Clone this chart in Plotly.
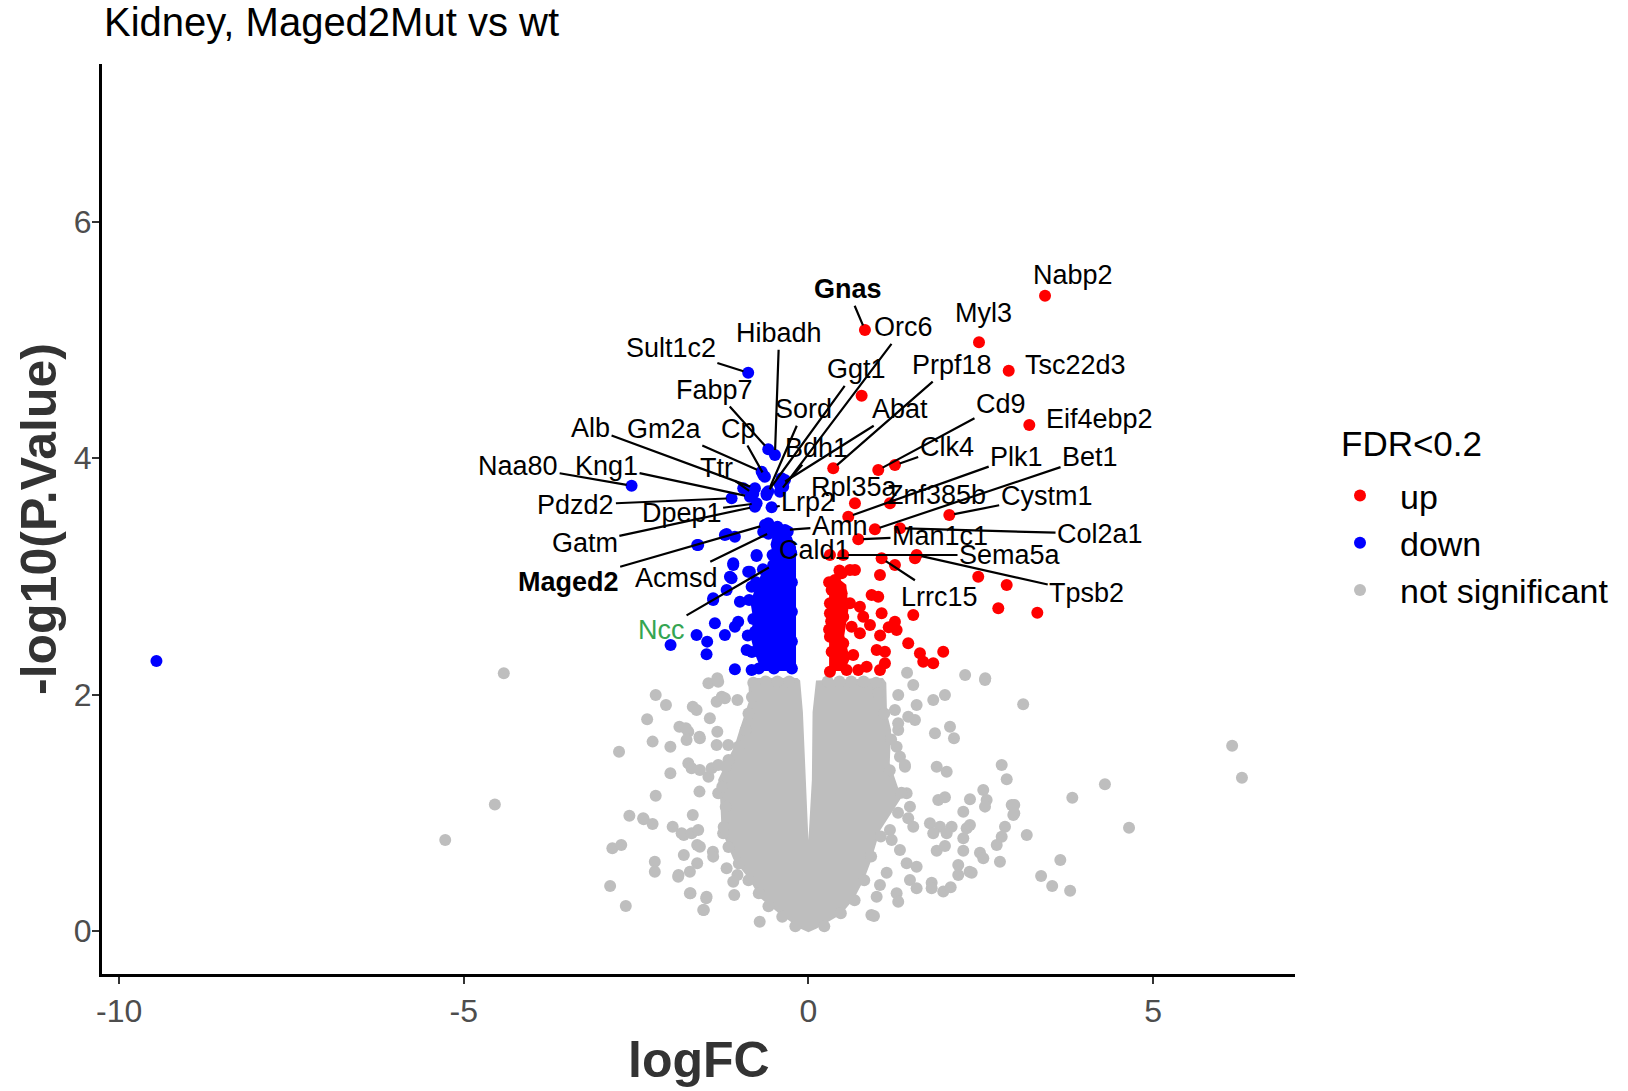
import plotly.graph_objects as go

# ---------------- data: Kidney, Maged2Mut vs wt ----------------
# Up-regulated genes with labels (logFC, -log10 P)
up_genes = ["Gnas", "Nabp2", "Myl3", "Tsc22d3", "Eif4ebp2", "Prpf18", "Cd9", "Clk4",
            "Plk1", "Bet1", "Rpl35a", "Znf385b", "Cystm1", "Col2a1", "Man1c1",
            "Sema5a", "Cald1", "Tpsb2", "Lrrc15"]
up_gene_logfc = [0.820, 3.433, 2.475, 2.906, 3.205, 0.360, 1.013, 1.255,
                 0.578, 0.965, 0.675, 1.183, 2.044, 1.328, 0.723,
                 0.505, 0.312, 1.570, 1.062]
up_gene_logp = [5.085, 5.375, 4.980, 4.740, 4.281, 3.914, 3.900, 3.942,
                3.505, 3.398, 3.618, 3.618, 3.519, 3.407, 3.314,
                3.181, 3.181, 3.181, 3.153]

# Other up-regulated genes
up_logfc = [0.772, 1.255, 1.546, 1.038, 2.464, 2.877, 2.755, 0.602, 0.482, 0.385,
            0.675, 0.337, 0.482, 0.917, 1.013, 0.602, 0.747, 1.062, 0.312, 1.521,
            1.255, 0.409, 0.627, 0.893, 1.280, 0.747, 0.312, 0.505, 1.448, 0.990,
            1.110, 1.618, 1.956, 0.337, 0.650, 1.666, 1.811, 0.409, 0.554, 0.723,
            1.038, 1.110, 0.312, 0.845, 0.312, 0.409, 0.795, 0.505, 3.321, 1.165,
            1.040, 0.300, 0.300, 0.330, 0.450]
up_logp = [4.529, 3.096, 3.153, 3.012, 2.997, 2.927, 2.730, 3.054, 3.026, 2.970,
           3.054, 2.885, 2.857, 2.843, 2.828, 2.772, 2.744, 2.688, 2.688, 2.673,
           2.617, 2.589, 2.574, 2.589, 2.547, 2.519, 2.490, 2.434, 2.434, 2.377,
           2.363, 2.349, 2.363, 2.363, 2.335, 2.278, 2.265, 2.265, 2.208, 2.208,
           2.208, 2.265, 2.194, 2.236, 2.772, 2.434, 2.659, 2.659, 2.693, 2.570,
           2.500, 2.550, 2.950, 2.620, 3.050]

# Densely packed up-regulated block (outline)
up_dense_logfc = [0.30, 0.30, 0.40, 0.55, 0.58, 0.52, 0.60, 0.52]
up_dense_logp = [2.20, 2.92, 3.00, 2.93, 2.72, 2.50, 2.30, 2.20]

# Down-regulated genes with labels
down_genes = ["Sult1c2", "Hibadh", "Fabp7", "Sord", "Alb", "Gm2a", "Cp", "Ttr",
              "Naa80", "Kng1", "Pdzd2", "Dpep1", "Gatm", "Maged2", "Acmsd", "Ncc",
              "Lrp2", "Bdh1", "Amn", "Orc6", "Ggt1", "Abat"]
down_gene_logfc = [-0.874, -0.486, -0.583, -0.583, -0.776, -0.679, -0.631, -0.800,
                   -2.566, -0.849, -1.115, -0.752, -0.776, -0.631, -0.534, -0.511,
                   -0.534, -0.366, -0.341, -0.414, -0.607, -0.400]
down_gene_logp = [4.723, 4.027, 4.075, 3.720, 3.745, 3.886, 3.843, 3.700,
                  3.767, 3.674, 3.661, 3.618, 3.590, 3.435, 3.378, 3.096,
                  3.585, 3.759, 3.393, 3.717, 3.703, 3.780]

# Other down-regulated genes
down_logfc = [-9.460, -0.656, -0.341, -0.414, -0.607, -0.583, -0.414, -1.187, -1.067, -1.614,
              -0.317, -0.752, -1.091, -0.874, -1.139, -1.382, -1.187, -0.994, -1.357, -1.067,
              -1.623, -2.000, -1.469, -1.478, -1.212, -1.067, -0.824, -0.897, -0.776, -1.019,
              -0.824, -0.607, -0.389, -0.946, -0.656, -1.212, -1.599, -0.366, -0.752, -1.091,
              -0.849, -1.115, -1.382,
              -0.24, -0.24, -0.24, -0.24, -0.25, -0.30, -0.45, -0.58, -0.52, -0.66,
              -0.76, -0.86, -0.80, -0.88, -0.82, -0.72, -0.50]
down_logp = [2.284, 3.858, 3.816, 3.773, 3.689, 3.449, 3.378, 3.359, 3.336, 3.266,
             3.308, 3.173, 3.111, 3.040, 2.997, 2.815, 2.885, 2.786, 2.603, 2.574,
             2.504, 2.420, 2.448, 2.341, 2.504, 2.214, 2.208, 2.377, 2.532, 2.617,
             2.913, 2.744, 3.830, 3.745, 3.378, 3.350, 3.266, 3.365, 3.181, 3.096,
             3.040, 2.984, 2.800,
             2.22, 2.45, 2.70, 2.95, 3.20, 3.38, 3.42, 3.36, 3.18, 3.06,
             2.95, 2.80, 2.64, 2.50, 2.36, 2.22, 2.22]

# Densely packed down-regulated block (outline)
down_dense_logfc = [-0.18, -0.18, -0.28, -0.50, -0.55, -0.50, -0.66, -0.76, -0.84,
                    -0.80, -0.84, -0.78, -0.68]
down_dense_logp = [2.20, 3.25, 3.37, 3.38, 3.27, 3.15, 3.05, 2.92, 2.78,
                   2.63, 2.49, 2.35, 2.20]

# Not significant genes (scattered)
ns_logfc = [-4.420, -4.550, -5.270,
            -2.216, -2.067, -2.340, -2.748, -2.261, -2.003, -2.216, -2.598, -2.390, -2.261,
            -2.845, -2.716, -2.877, -2.650, -2.229, -2.229, -1.885, -1.711, -1.517, -1.483,
            -1.076, -0.707, -1.970, -1.808, -1.678, -1.614, -1.808, -1.614, -1.386, -1.872,
            -1.743, -1.581, -1.322, -2.003, -1.743, -1.451, -1.678, -1.451, -1.322, -1.257,
            -1.030, -1.160, -1.581, -1.030,
            -1.623, -1.430, -1.332, -1.212, -1.309, -1.778, -1.768, -1.575, -1.332, -1.164,
            -1.695, -1.575, -1.405, -1.309, -1.309, -2.398, -1.840, -1.695, -1.599, -1.575,
            -1.382, -1.720, -1.187, -1.091, -1.720, -1.478, -1.527, -1.237, -1.890,
            1.521, 2.562, 1.303, 1.570, 1.811, 1.981, 1.255, 1.448, 1.546, 1.836, 2.054,
            2.112, 1.303, 1.280, 1.328, 1.401, 1.861, 2.006, 2.804, 2.877, 1.425, 1.884,
            1.981, 2.344, 2.537, 2.586, 2.562, 2.247, 2.949, 2.973, 1.473, 1.448, 1.521,
            1.763, 1.909, 2.078, 1.811, 2.006, 2.296, 2.344, 2.247, 1.183, 1.208, 2.852,
            2.804, 2.732, 1.861, 1.981, 2.247, 2.489, 2.537, 2.779, 1.328, 1.425, 1.570,
            2.174, 2.174, 2.369, 1.135, 1.473, 1.570, 1.788, 1.788, 1.956, 2.064, 1.038,
            1.280, 1.303, 0.951, 0.990,
            1.431, 2.274, 2.566, 3.116, 3.829, 4.302, 4.652, 6.148, 6.290, 3.655, 3.376,
            3.537, 3.797, 3.168, 2.987, 2.987, 2.338, 0.913, 1.399, 1.302,
            # genes packed along the edge of the dense core
            -0.91, -1.01, -1.20, -1.25, -1.20, -1.23, -1.16, -1.01, -0.87, -0.72, -0.58,
            -0.38, -0.19, -0.87, -0.82,
            -0.80, -0.62, -0.45, -0.28, 0.28, 0.45, 0.62, 0.80, 0.98,
            1.10, 1.20, 1.18, 1.35, 1.30, 1.05, 0.91, 0.81, 0.67, 0.47, 0.23, 1.01]
ns_logp = [2.180, 1.070, 0.770,
           1.997, 1.912, 1.791, 1.517, 1.602, 1.559, 1.145, 0.975, 0.945, 0.905,
           0.700, 0.728, 0.381, 0.212, 0.586, 0.502, 0.474, 0.319, 0.178, 0.277,
           0.305, 0.079, 0.882, 0.812, 0.981, 0.728, 0.643, 0.573, 0.671, 1.728,
           1.686, 1.644, 1.686, 1.334, 1.419, 1.305, 1.898, 2.096, 2.138, 1.982,
           1.954, 1.447, 1.179, 0.474,
           1.870, 1.799, 1.940, 1.968, 2.109, 1.715, 1.616, 1.630, 1.574, 1.574,
           1.376, 1.362, 1.376, 1.404, 1.165, 0.953, 0.826, 0.826, 0.854, 0.713,
           0.629, 0.502, 0.530, 0.417, 0.319, 0.290, 0.178, 0.826, 0.459,
           2.081, 2.124, 1.997, 1.912, 1.954, 1.997, 1.870, 1.813, 1.785, 1.673, 1.728,
           1.630, 1.701, 1.559, 1.475, 1.390, 1.390, 1.348, 1.404, 1.283, 1.165, 1.108,
           1.131, 1.114, 1.193, 1.108, 1.052, 1.009, 1.066, 0.981, 1.052, 0.953, 0.882,
           0.911, 0.882, 0.882, 0.826, 0.826, 0.869, 0.897, 0.784, 0.854, 0.770, 0.882,
           0.798, 0.728, 0.679, 0.719, 0.679, 0.662, 0.615, 0.586, 0.685, 0.573, 0.544,
           0.558, 0.474, 0.493, 0.493, 0.431, 0.361, 0.409, 0.361, 0.333, 0.370, 0.389,
           0.319, 0.248, 0.127, 0.290,
           2.185, 2.166, 2.138, 1.918, 1.128, 1.241, 0.874, 1.568, 1.297, 0.601, 0.465,
           0.381, 0.341, 0.812, 1.066, 0.996, 0.502, 0.135, 1.404, 1.757,
           1.70, 1.56, 1.39, 1.22, 1.05, 0.88, 0.71, 0.57, 0.43, 0.32, 0.21,
           0.12, 0.04, 1.84, 1.98,
           2.10, 2.11, 2.11, 2.11, 2.11, 2.11, 2.11, 2.11, 2.10,
           1.84, 1.62, 1.36, 1.17, 1.00, 0.80, 0.63, 0.43, 0.26, 0.15, 0.04, 2.01]

# Dense core of not significant genes (outline, V-shaped gap around logFC 0)
ns_dense_logfc = [0.00, -0.12, -0.43, -0.70, -0.86, -1.09, -1.26, -1.28, -1.31, -1.07,
                  -1.00, -0.86, -0.87, -0.82, -0.16, -0.12, -0.08, -0.04, 0.00, 0.05,
                  0.06, 0.11, 1.08, 1.13, 1.14, 1.20, 1.18, 1.35, 1.04, 0.90, 0.81,
                  0.66, 0.47, 0.12]
ns_dense_logp = [-0.01, 0.02, 0.15, 0.28, 0.44, 0.61, 0.85, 1.11, 1.28, 1.57,
                 1.70, 1.95, 2.08, 2.14, 2.14, 2.12, 1.85, 1.28, 0.77, 1.28,
                 1.85, 2.12, 2.14, 2.10, 1.84, 1.70, 1.42, 1.13, 0.85, 0.58, 0.44,
                 0.27, 0.14, 0.02]

# Label placement (text centre in data units) and whether a leader line is drawn
label_place = {
    "Gnas": (0.569, 5.429, True), "Sult1c2": (-1.996, 4.930, True),
    "Hibadh": (-0.424, 5.057, True), "Fabp7": (-1.357, 4.577, True),
    "Sord": (-0.065, 4.414, True), "Alb": (-3.161, 4.258, True),
    "Gm2a": (-2.083, 4.247, True), "Cp": (-1.019, 4.247, True),
    "Ttr": (-1.332, 3.915, True), "Naa80": (-4.212, 3.934, True),
    "Kng1": (-2.929, 3.934, True), "Pdzd2": (-3.374, 3.604, True),
    "Dpep1": (-1.840, 3.534, True), "Gatm": (-3.244, 3.280, True),
    "Maged2": (-3.486, 2.955, True), "Acmsd": (-1.913, 2.984, True),
    "Ncc": (-2.131, 2.547, True), "Lrp2": (-0.003, 3.632, True),
    "Bdh1": (0.119, 4.084, True), "Amn": (0.457, 3.426, True),
    "Cald1": (0.094, 3.223, False), "Nabp2": (3.843, 5.550, False),
    "Myl3": (2.537, 5.226, False), "Orc6": (1.386, 5.107, True),
    "Ggt1": (0.700, 4.752, True), "Prpf18": (2.078, 4.788, True),
    "Tsc22d3": (3.868, 4.788, False), "Abat": (1.328, 4.414, True),
    "Eif4ebp2": (4.221, 4.329, False), "Cd9": (2.794, 4.459, True),
    "Clk4": (2.006, 4.092, True), "Plk1": (3.022, 4.013, True),
    "Bet1": (4.086, 4.008, True), "Rpl35a": (0.675, 3.759, False),
    "Znf385b": (1.861, 3.689, False), "Cystm1": (3.457, 3.680, True),
    "Col2a1": (4.231, 3.359, True), "Man1c1": (1.909, 3.342, True),
    "Sema5a": (2.925, 3.181, True), "Tpsb2": (4.038, 2.857, True),
    "Lrrc15": (1.909, 2.828, True),
}
bold_labels = {"Gnas", "Maged2"}
label_colors = {"Ncc": "#35A552"}

x_tickvals = [-10, -5, 0, 5]
x_ticktext = ["-10", "-5", "0", "5"]
y_tickvals = [0, 2, 4, 6]
y_ticktext = ["0", "2", "4", "6"]

# ---------------- styling ----------------
FONT = "Arial, Liberation Sans, sans-serif"
RED, BLUE, GREY = "#FF0000", "#0000FF", "#BEBEBE"
MS = 12

fig = go.Figure()

# not significant
fig.add_trace(go.Scatter(x=ns_dense_logfc, y=ns_dense_logp, fill="toself", mode="lines",
                         fillcolor=GREY, line=dict(width=0, color=GREY),
                         showlegend=False, hoverinfo="skip"))
fig.add_trace(go.Scatter(x=ns_logfc, y=ns_logp, mode="markers", name="not significant",
                         marker=dict(color=GREY, size=MS), legendrank=3))

# down
fig.add_trace(go.Scatter(x=down_dense_logfc, y=down_dense_logp, fill="toself", mode="lines",
                         fillcolor=BLUE, line=dict(width=0, color=BLUE),
                         showlegend=False, hoverinfo="skip"))
fig.add_trace(go.Scatter(x=down_logfc + down_gene_logfc, y=down_logp + down_gene_logp,
                         mode="markers", name="down", text=[""] * len(down_logfc) + down_genes,
                         marker=dict(color=BLUE, size=MS), legendrank=2))

# up
fig.add_trace(go.Scatter(x=up_dense_logfc, y=up_dense_logp, fill="toself", mode="lines",
                         fillcolor=RED, line=dict(width=0, color=RED),
                         showlegend=False, hoverinfo="skip"))
fig.add_trace(go.Scatter(x=up_logfc + up_gene_logfc, y=up_logp + up_gene_logp,
                         mode="markers", name="up", text=[""] * len(up_logfc) + up_genes,
                         marker=dict(color=RED, size=MS), legendrank=1))

# gene labels with leader lines
annotations = []
for genes, gx, gy in ((down_genes, down_gene_logfc, down_gene_logp),
                      (up_genes, up_gene_logfc, up_gene_logp)):
    for g, px, py in zip(genes, gx, gy):
        lx, ly, line = label_place[g]
        txt = f"<b>{g}</b>" if g in bold_labels else g
        fnt = dict(family=FONT, size=27, color=label_colors.get(g, "black"))
        if line:
            annotations.append(dict(x=px, y=py, xref="x", yref="y", ax=lx, ay=ly,
                                    axref="x", ayref="y", text=txt, font=fnt,
                                    showarrow=True, arrowhead=0, arrowwidth=2.2,
                                    arrowcolor="black", standoff=5))
        else:
            annotations.append(dict(x=lx, y=ly, xref="x", yref="y", text=txt, font=fnt,
                                    showarrow=False))

# axis titles
annotations.append(dict(x=0.5, y=-0.0945, xref="paper", yref="paper", text="<b>logFC</b>",
                        showarrow=False, xanchor="center", yanchor="middle",
                        font=dict(family=FONT, size=50, color="#333333")))
annotations.append(dict(x=-0.0528, y=0.5, xref="paper", yref="paper",
                        text="<b>-log10(P.Value)</b>", textangle=-90, showarrow=False,
                        xanchor="center", yanchor="middle",
                        font=dict(family=FONT, size=50, color="#333333")))
# legend heading
annotations.append(dict(x=(1339 - 102) / 1193, y=(974 - 444) / 910, xref="paper", yref="paper",
                        text="FDR<0.2", showarrow=False, xanchor="left", yanchor="middle",
                        font=dict(family=FONT, size=35, color="black")))

fig.update_layout(
    width=1628, height=1091,
    margin=dict(l=102, r=333, t=64, b=117),
    paper_bgcolor="white", plot_bgcolor="white",
    title=dict(text="Kidney, Maged2Mut vs wt", x=104 / 1628, xanchor="left",
               y=1 - 22 / 1091, yanchor="middle",
               font=dict(family=FONT, size=40, color="black")),
    annotations=annotations,
    showlegend=True,
    legend=dict(font=dict(family=FONT, size=34, color="black"),
                x=(1320 - 102) / 1193, y=(974 - 467) / 910, xanchor="left", yanchor="top",
                bgcolor="rgba(0,0,0,0)", itemwidth=70),
    xaxis=dict(range=[-10.25, 7.06], tickvals=x_tickvals, ticktext=x_ticktext,
               showgrid=False, zeroline=False, showline=True, linecolor="black",
               linewidth=3, ticks="outside", ticklen=7, tickwidth=2, tickcolor="#333333",
               tickfont=dict(family=FONT, size=32, color="#4D4D4D")),
    yaxis=dict(range=[-0.364, 7.335], tickvals=y_tickvals, ticktext=y_ticktext,
               showgrid=False, zeroline=False, showline=True, linecolor="black",
               linewidth=3, ticks="outside", ticklen=7, tickwidth=2, tickcolor="#333333",
               ticklabelstandoff=-6,
               tickfont=dict(family=FONT, size=32, color="#4D4D4D")),
)

fig.write_html("out.html")
